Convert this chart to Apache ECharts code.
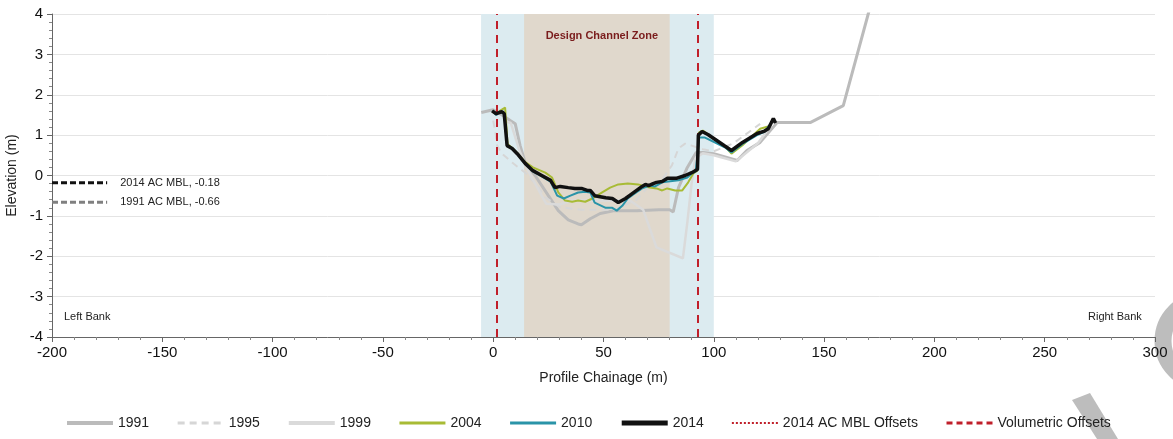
<!DOCTYPE html>
<html>
<head>
<meta charset="utf-8">
<script src="https://cdn.jsdelivr.net/npm/echarts@6/dist/echarts.min.js"></script>
<style>
html, body { margin: 0; padding: 0; background: #fff; }
#chart { width: 1173px; height: 439px; }
</style>
</head>
<body>
<div id="chart"></div>
<script>
// survey profiles, chainage (m) vs elevation (m)
var ch1991 = [-5.4, 0, 4, 7.7, 10, 12.2, 14.5, 19, 25, 29.5, 34, 38.5, 40, 44, 48.5, 55, 65, 75, 80, 81.6, 84, 88, 92, 95, 100, 110.6, 115, 121, 128.7, 143.7, 158.7, 170, 175];
var el1991 = [1.56, 1.63, 1.5, 1.36, 1.28, 0.74, 0.32, 0, -0.5, -0.87, -1.1, -1.2, -1.22, -1.07, -0.94, -0.87, -0.87, -0.85, -0.85, -0.9, -0.3, 0.2, 0.57, 0.57, 0.54, 0.37, 0.62, 0.82, 1.31, 1.31, 1.73, 4.0, 5.0];

var ch1995 = [0, 1, 1.8, 4, 8.6, 14.5, 20, 23.6, 30, 40, 55, 65, 70, 76, 81, 84, 87, 90, 95, 100, 109, 121];
var el1995 = [1.36, 1.07, 0.74, 0.54, 0.32, 0.07, -0.25, -0.54, -0.78, -0.85, -0.85, -0.6, -0.3, -0.15, 0.25, 0.67, 0.79, 0.74, 0.65, 0.6, 0.8, 1.28];

var ch1999 = [5, 8, 12, 16, 20, 24, 30, 36, 45, 55, 62, 68, 74, 86, 88, 90, 91.6, 95, 100, 110, 120, 126];
var el1999 = [1.35, 1.3, 0.6, 0.1, -0.3, -0.7, -0.72, -0.62, -0.62, -0.62, -0.62, -0.85, -1.78, -2.05, -1.16, -0.17, 0.42, 0.55, 0.5, 0.35, 0.8, 1.25];

var ch2004 = [-0.5, 1.4, 3, 5.4, 6.5, 8.6, 10.9, 14.5, 18, 23.6, 26.7, 29.5, 32.6, 35.8, 38.5, 41.7, 45, 49.4, 53, 56.7, 61, 65.7, 71, 74, 76.6, 78.9, 82.5, 85.7, 88.4, 90.7, 92.5, 93.2, 95, 105, 108, 113, 121, 125];
var el2004 = [1.58, 1.52, 1.6, 1.68, 0.78, 0.68, 0.56, 0.33, 0.2, 0.07, -0.05, -0.42, -0.62, -0.65, -0.62, -0.65, -0.57, -0.42, -0.3, -0.22, -0.2, -0.22, -0.3, -0.32, -0.37, -0.32, -0.37, -0.37, -0.17, 0.05, 0.12, 1.06, 1.11, 0.72, 0.54, 0.75, 1.16, 1.22];

var ch2010 = [-0.5, 1.4, 3, 5, 6.3, 8.6, 10.9, 14.5, 18, 22, 26, 29, 32, 35, 38.5, 41.7, 44, 46, 51, 54, 56, 58.5, 61, 64, 67.5, 71, 73.4, 76.6, 79.3, 84, 88, 90, 91.8, 93.4, 96, 105, 108, 113, 119.6, 123, 126];
var el2010 = [1.6, 1.5, 1.58, 1.52, 0.74, 0.67, 0.54, 0.28, 0.1, -0.02, -0.15, -0.5, -0.57, -0.5, -0.42, -0.4, -0.42, -0.67, -0.8, -0.8, -0.87, -0.75, -0.57, -0.45, -0.32, -0.25, -0.27, -0.17, -0.15, -0.12, -0.05, 0.05, 0.1, 0.94, 0.94, 0.7, 0.57, 0.78, 1.0, 1.08, 1.3];

var ch2014 = [-0.5, 1.4, 2.7, 4, 5, 6.3, 8.6, 10.9, 14.5, 18, 22, 26, 28, 30.4, 34, 37, 40, 42.6, 44, 46, 51, 54, 56.7, 60, 63, 67.5, 69, 70.5, 72.5, 74, 76.6, 79, 83, 87, 90, 91.6, 92.6, 93, 94.7, 97.5, 105, 108, 113, 119.6, 123, 124.7, 127, 128];
var el2014 = [1.6, 1.53, 1.56, 1.58, 1.53, 0.74, 0.67, 0.54, 0.3, 0.12, 0, -0.12, -0.3, -0.27, -0.3, -0.32, -0.32, -0.37, -0.37, -0.5, -0.55, -0.57, -0.67, -0.57, -0.45, -0.27, -0.22, -0.25, -0.2, -0.17, -0.15, -0.07, -0.07, 0, 0.07, 0.12, 0.15, 1.0, 1.09, 1.01, 0.73, 0.62, 0.82, 1.04, 1.1, 1.16, 1.41, 1.3];

// reference levels and zones
var mblNames = ['2014 AC MBL, -0.18', '1991 AC MBL, -0.66'];
var mblLevels = [-0.18, -0.66];
var mblSpan = [-200, -175];
var offsetChainage = [1.8, 92.5];
var wetZone = [-5.5, 100];
var designZone = [14, 80];

var legendNames = ['1991', '1995', '1999', '2004', '2010', '2014', '2014 AC MBL Offsets', 'Volumetric Offsets'];
var legendWidths = [4, 3, 4, 3, 3, 5, 2, 3];

var font = 'Arial, "Liberation Sans", sans-serif';

function pairs(xs, ys) {
	var out = [];
	for (var i = 0; i < xs.length; i++) out.push([xs[i], ys[i]]);
	return out;
}

function profile(name, xs, ys, color, width, type, z) {
	return {
		name: name,
		type: 'line',
		data: pairs(xs, ys),
		symbol: 'none',
		z: z,
		lineStyle: { color: color, width: width, type: type || 'solid' },
		itemStyle: { color: color }
	};
}

function mbl(i, color) {
	return {
		name: mblNames[i],
		type: 'line',
		symbol: 'none',
		z: 5,
		data: [[mblSpan[0], mblLevels[i]], [mblSpan[1], mblLevels[i]]],
		lineStyle: { color: color, width: 3, type: [6, 3] },
		endLabel: {
			show: true,
			formatter: mblNames[i],
			distance: 13,
			color: '#222',
			fontSize: 11,
			fontFamily: font
		}
	};
}

var chart = echarts.init(document.getElementById('chart'));

chart.setOption({
	animation: false,
	grid: { left: 52, right: 18, top: 14, bottom: 102, outerBoundsMode: 'none' },
	legend: {
		left: 60,
		top: 411,
		itemWidth: 46,
		itemHeight: 12,
		itemGap: 27,
		itemStyle: { opacity: 0 },
		textStyle: { fontFamily: font, fontSize: 14, color: '#222' },
		data: legendNames.map(function (n, i) {
			return { name: n, lineStyle: { width: legendWidths[i] } };
		})
	},
	xAxis: {
		type: 'value',
		min: -200,
		max: 300,
		interval: 50,
		name: 'Profile Chainage (m)',
		nameLocation: 'middle',
		nameGap: 34,
		nameTextStyle: { fontFamily: font, fontSize: 14, color: '#222' },
		axisLine: { onZero: false, lineStyle: { color: '#666', width: 1 } },
		axisTick: { length: 5, lineStyle: { color: '#666' } },
		minorTick: { show: true, splitNumber: 5, length: 3, lineStyle: { color: '#888' } },
		axisLabel: { fontFamily: font, fontSize: 15, color: '#111', margin: 8 },
		splitLine: { show: false }
	},
	yAxis: {
		type: 'value',
		min: -4,
		max: 4,
		interval: 1,
		name: 'Elevation (m)',
		nameLocation: 'middle',
		nameGap: 32,
		nameTextStyle: { fontFamily: font, fontSize: 14, color: '#222' },
		axisLine: { show: true, onZero: false, lineStyle: { color: '#666', width: 1 } },
		axisTick: { show: true, length: 5, lineStyle: { color: '#666' } },
		minorTick: { show: true, splitNumber: 5, length: 3, lineStyle: { color: '#888' } },
		axisLabel: { fontFamily: font, fontSize: 15, color: '#111', margin: 9 },
		splitLine: { show: true, lineStyle: { color: '#e4e4e4', width: 1 } }
	},
	series: [
		{
			name: 'zones',
			type: 'line',
			data: [],
			z: 1,
			silent: true,
			markArea: {
				silent: true,
				data: [
					[{ xAxis: wetZone[0], yAxis: -4, itemStyle: { color: '#dcebf0' } }, { xAxis: wetZone[1], yAxis: 4 }],
					[{
						xAxis: designZone[0], yAxis: -4,
						itemStyle: { color: '#e0d8cc' },
						label: {
							show: true,
							position: 'insideTop',
							distance: 16,
							offset: [5, 0],
							formatter: 'Design Channel Zone',
							color: '#7a1c1c',
							fontWeight: 'bold',
							fontSize: 11,
							fontFamily: font
						}
					}, { xAxis: designZone[1], yAxis: 4 }]
				]
			}
		},
		profile('1991', ch1991, el1991, '#bbbbbb', 3, 'solid', 3),
		profile('1995', ch1995, el1995, '#d6d6d6', 2, [7, 5], 3),
		profile('1999', ch1999, el1999, '#dadada', 2.5, 'solid', 3),
		profile('2004', ch2004, el2004, '#a8bb35', 2, 'solid', 4),
		profile('2010', ch2010, el2010, '#2a94a8', 2, 'solid', 4),
		profile('2014', ch2014, el2014, '#111111', 3.5, 'solid', 6),
		{
			name: '2014 AC MBL Offsets',
			type: 'line',
			data: [],
			symbol: 'none',
			lineStyle: { color: '#c01f2a', width: 2, type: 'dotted' },
			itemStyle: { color: '#c01f2a' }
		},
		{
			name: 'Volumetric Offsets',
			type: 'line',
			data: [],
			symbol: 'none',
			z: 2,
			lineStyle: { color: '#c01f2a', width: 2, type: [6, 4] },
			itemStyle: { color: '#c01f2a' },
			markLine: {
				silent: true,
				symbol: 'none',
				label: { show: false },
				lineStyle: { color: '#c01f2a', width: 2, type: [8, 6] },
				data: offsetChainage.map(function (v) { return { xAxis: v }; })
			}
		},
		mbl(0, '#111111'),
		mbl(1, '#808080')
	],
	graphic: [
		{ type: 'text', left: 64, top: 311, style: { text: 'Left Bank', font: '11px ' + font, fill: '#222' } },
		{ type: 'text', left: 1088, top: 311, style: { text: 'Right Bank', font: '11px ' + font, fill: '#222' } },
		{ type: 'circle', z: -10, shape: { cx: 1204, cy: 341, r: 41 }, style: { fill: 'none', stroke: '#bdbdbd', lineWidth: 17 } },
		{ type: 'polygon', z: -10, shape: { points: [[1072, 400], [1090, 393], [1118, 439], [1097, 439]] }, style: { fill: '#bdbdbd' } }
	]
});
</script>
</body>
</html>
